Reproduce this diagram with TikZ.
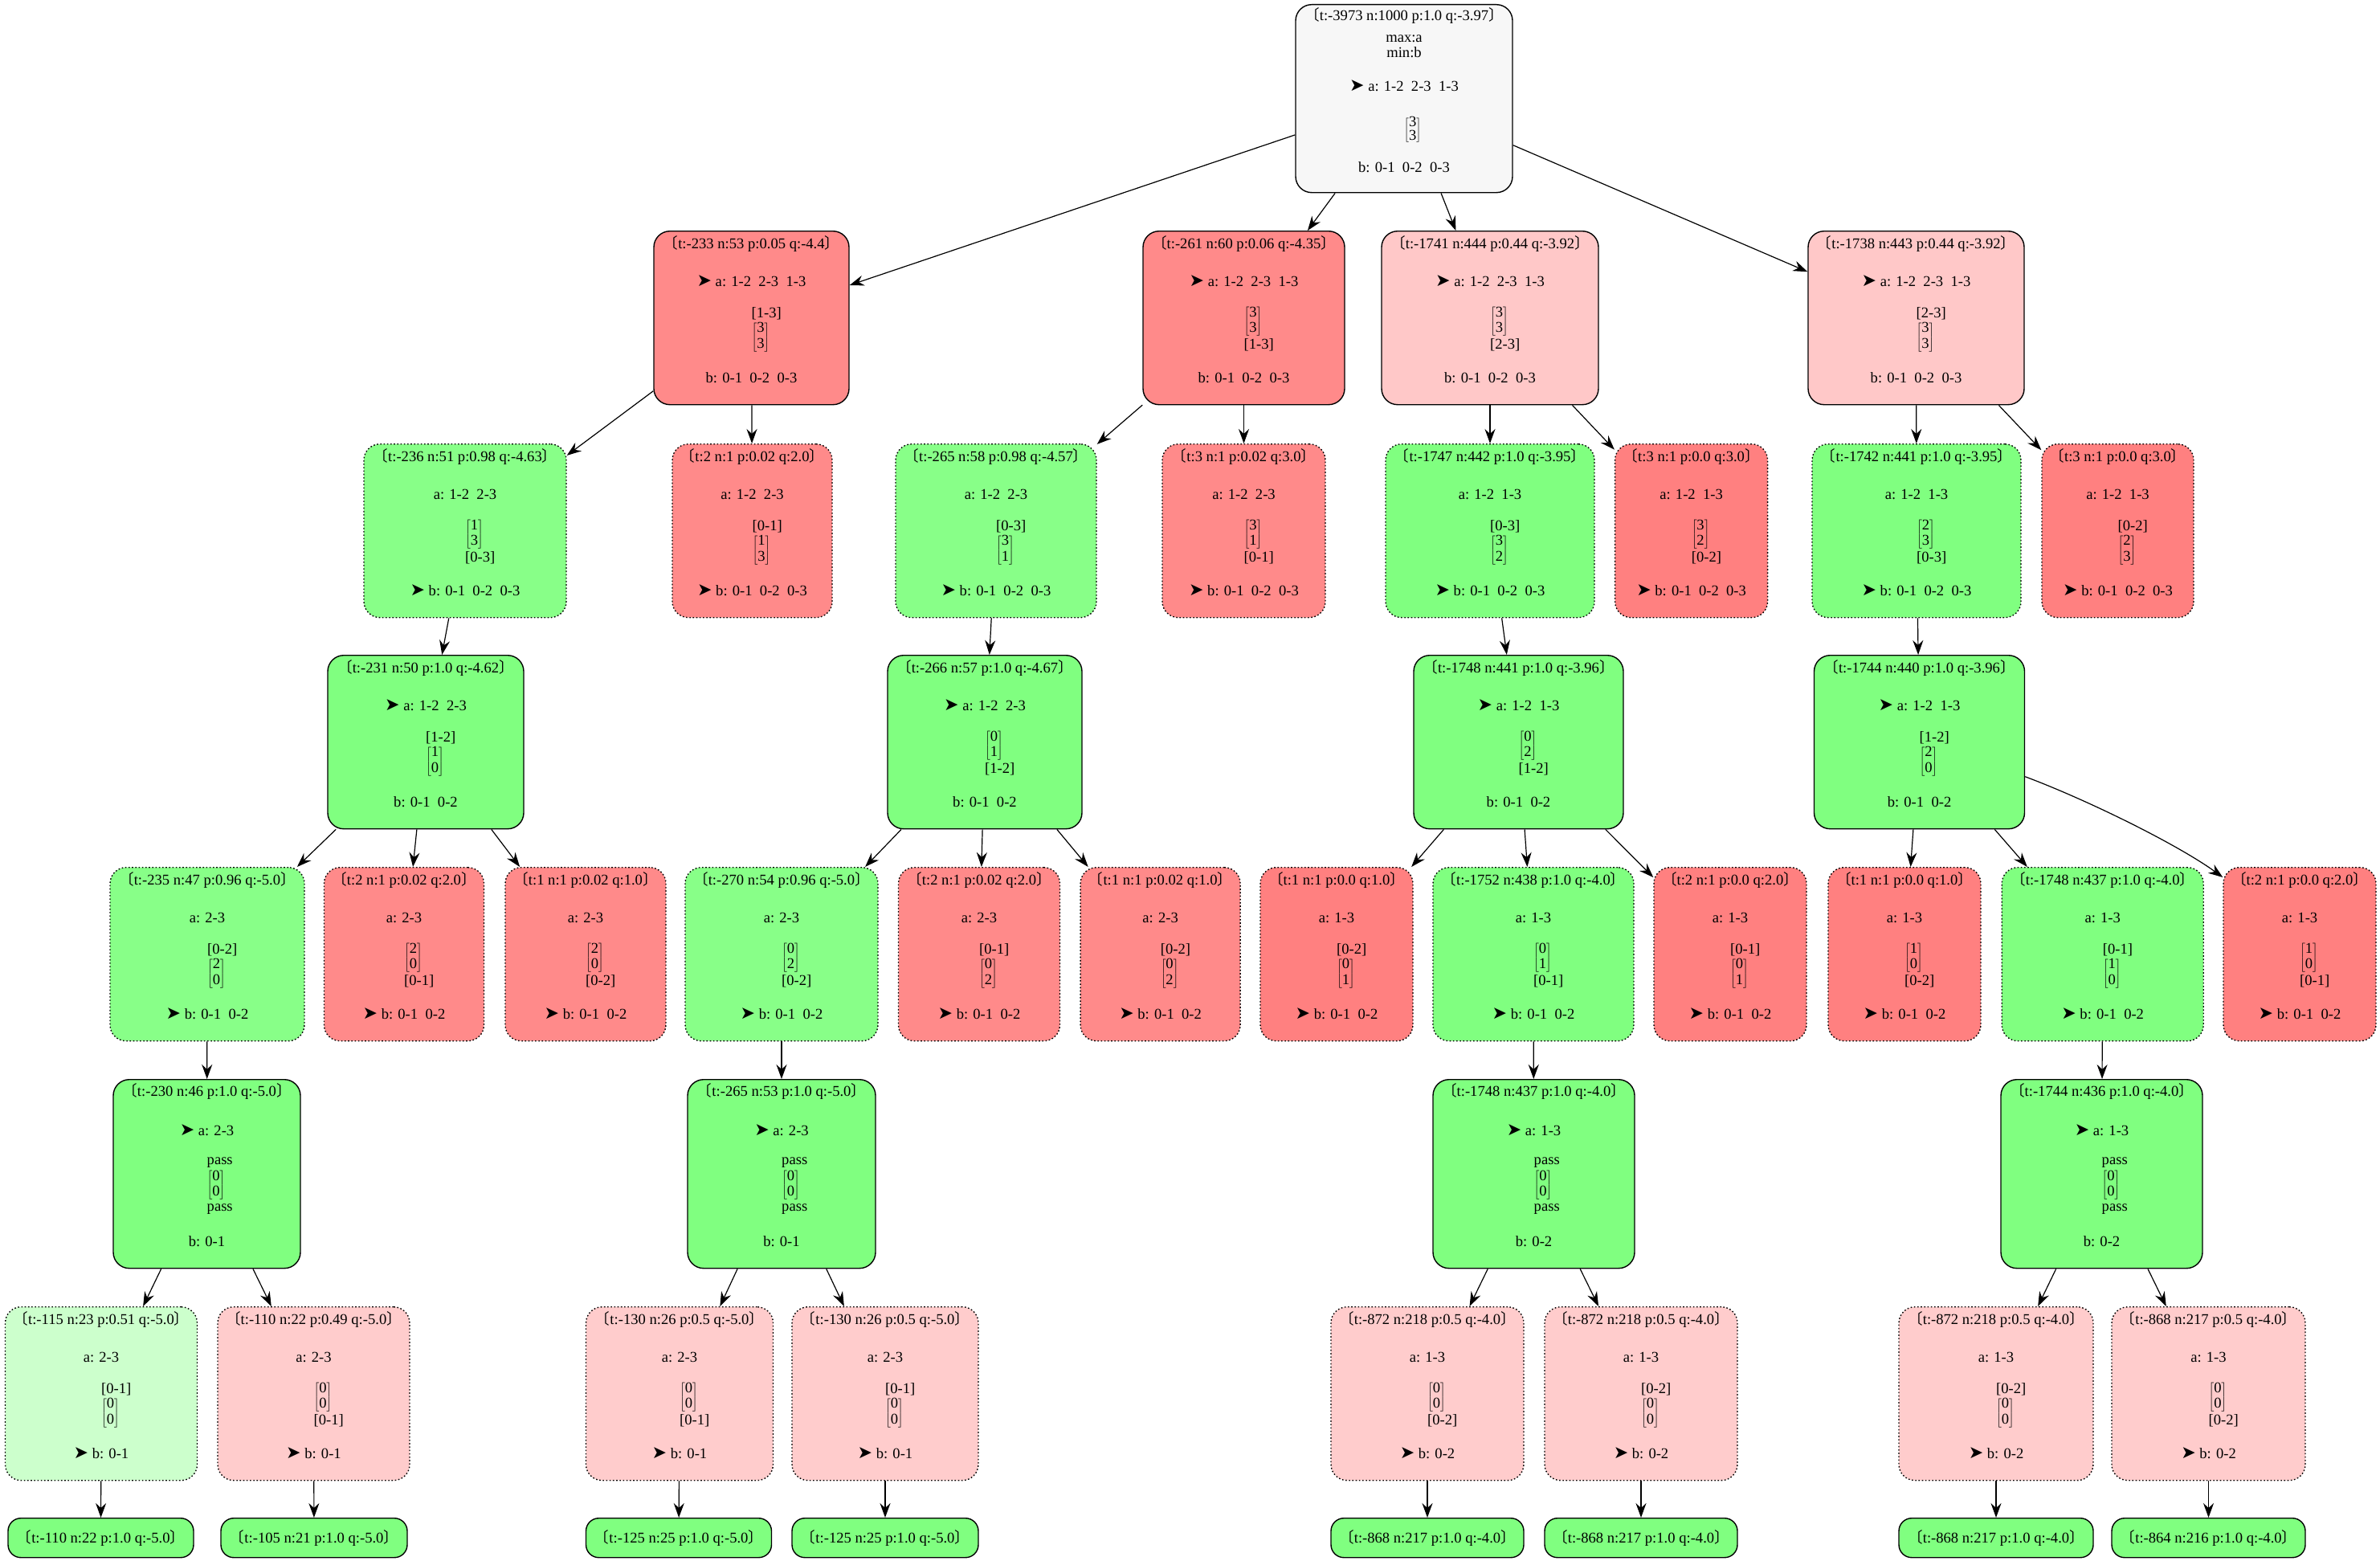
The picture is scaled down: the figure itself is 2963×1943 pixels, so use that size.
\documentclass[tikz,border=0pt]{standalone}
\usepackage{fontspec}
\setmainfont{Liberation Serif}
\newfontfamily\cjk{Noto Sans CJK SC}
\newfontfamily\sym{DejaVu Sans}
\usetikzlibrary{arrows.meta}
\definecolor{cgray}{HTML}{F7F7F7}
\definecolor{csal}{HTML}{FF8A8A}
\definecolor{cred}{HTML}{FF8080}
\definecolor{cpink}{HTML}{FFC8C8}
\definecolor{cpinkb}{HTML}{FFCCCC}
\definecolor{cgrn}{HTML}{88FF88}
\definecolor{cgrnb}{HTML}{80FF80}
\definecolor{clgrn}{HTML}{CCFFCC}
\tikzset{
  box/.style={draw=black, line width=1.4pt, rounded corners=20pt, inner sep=0pt},
  solidbox/.style={box},
  dotbox/.style={box, dash pattern=on 1.6pt off 2.6pt},
  leafbox/.style={box, rounded corners=16pt, fill=cgrnb, minimum height=49pt, anchor=north, font=\fontsize{18.6}{19.5}\selectfont},
  txt/.style={inner sep=0pt, font=\fontsize{18.6}{19.5}\selectfont},
  mbox/.style={txt, anchor=west, text height=16pt, text depth=7pt},
  edge/.style={line width=1.2pt, -{Stealth[length=18pt,width=13pt,inset=6pt]}},
}
\newcommand\arr{{\sym\fontsize{22}{22}\selectfont ➤}\ }
\newcommand\ttl[1]{{\cjk 〔}#1{\cjk 〕}}
\newcommand\mtx[2]{{\delimiterfactor=850\delimitershortfall=8pt\smash{$\left[\begin{tabular}{@{}c@{}}#1\\#2\end{tabular}\right]$}}}
% standard node: name, style, cx, top, width, title, a-line, b-line
\newcommand\std[8]{%
  \node[#2, minimum width=#5pt, minimum height=216pt, anchor=north] (#1) at (#3,-#4) {};
  \node[txt] (#1-t) at ([yshift=-16pt]#1.north) {\ttl{#6}};
  \node[txt] (#1-a) at ([yshift=-63pt]#1.north) {#7};
  \node[txt] (#1-b) at ([yshift=-183pt]#1.north) {#8};
}
\newcommand\stkA[4]{%
  \node[txt, anchor=west] (#1-s1) at ([yshift=-103pt]#1.north) {#2};
  \node[mbox] (#1-s2) at ([yshift=-132.5pt]#1.north) {\mtx{#3}{#4}};
}
\newcommand\stkB[4]{%
  \node[mbox] (#1-s1) at ([yshift=-113pt]#1.north) {\mtx{#2}{#3}};
  \node[txt, anchor=west] (#1-s2) at ([yshift=-142pt]#1.north) {#4};
}
% pass node: name, cx, width, title, a-line, b-line
\newcommand\pss[6]{%
  \node[solidbox, fill=cgrnb, minimum width=#3pt, minimum height=235pt, anchor=north] (#1) at (#2,-1343) {};
  \node[txt] (#1-t) at ([yshift=-15pt]#1.north) {\ttl{#4}};
  \node[txt] (#1-a) at ([yshift=-64pt]#1.north) {#5};
  \node[txt, anchor=west] (#1-s1) at ([yshift=-104pt]#1.north) {pass};
  \node[mbox] (#1-s2) at ([yshift=-132pt]#1.north) {\mtx{0}{0}};
  \node[txt, anchor=west] (#1-s3) at ([yshift=-162pt]#1.north) {pass};
  \node[txt] (#1-b) at ([yshift=-202pt]#1.north) {#6};
}
\begin{document}
\begin{tikzpicture}[x=1pt,y=1pt]
\useasboundingbox (0,0) rectangle (2963,-1943);
% root
\node[solidbox, fill=cgray, minimum width=270pt, minimum height=234pt, anchor=north] (n0) at (1748,-5) {};
\node[txt] (n0-t) at ([yshift=-15pt]n0.north) {\ttl{t:-3973 n:1000 p:1.0 q:-3.97}};
\node[txt] (n0-m1) at ([yshift=-43pt]n0.north) {max:a};
\node[txt] (n0-m2) at ([yshift=-60pt]n0.north) {min:b};
\node[txt] (n0-a) at ([yshift=-102pt]n0.north) {\arr a: 1-2\ \ 2-3\ \ 1-3};
\node[mbox] (n0-s) at ([yshift=-157pt]n0.north) {\fontsize{18.6}{15.5}\selectfont\mtx{3}{3}};
\node[txt] (n0-b) at ([yshift=-203pt]n0.north) {b: 0-1\ \ 0-2\ \ 0-3};
% level 1
\std{n233}{solidbox,fill=csal}{935.5}{287}{243}{t:-233 n:53 p:0.05 q:-4.4}{\arr a: 1-2\ \ 2-3\ \ 1-3}{b: 0-1\ \ 0-2\ \ 0-3}
\stkA{n233}{[1-3]}{3}{3}
\std{n261}{solidbox,fill=csal}{1548.5}{287}{251}{t:-261 n:60 p:0.06 q:-4.35}{\arr a: 1-2\ \ 2-3\ \ 1-3}{b: 0-1\ \ 0-2\ \ 0-3}
\stkB{n261}{3}{3}{[1-3]}
\std{n1741}{solidbox,fill=cpink}{1855}{287}{270}{t:-1741 n:444 p:0.44 q:-3.92}{\arr a: 1-2\ \ 2-3\ \ 1-3}{b: 0-1\ \ 0-2\ \ 0-3}
\stkB{n1741}{3}{3}{[2-3]}
\std{n1738}{solidbox,fill=cpink}{2385.5}{287}{269}{t:-1738 n:443 p:0.44 q:-3.92}{\arr a: 1-2\ \ 2-3\ \ 1-3}{b: 0-1\ \ 0-2\ \ 0-3}
\stkA{n1738}{[2-3]}{3}{3}
% level 2
\std{n236}{dotbox,fill=cgrn}{579}{552}{252}{t:-236 n:51 p:0.98 q:-4.63}{a: 1-2\ \ 2-3}{\arr b: 0-1\ \ 0-2\ \ 0-3}
\stkB{n236}{1}{3}{[0-3]}
\std{n2a}{dotbox,fill=csal}{936.5}{552}{199}{t:2 n:1 p:0.02 q:2.0}{a: 1-2\ \ 2-3}{\arr b: 0-1\ \ 0-2\ \ 0-3}
\stkA{n2a}{[0-1]}{1}{3}
\std{n265}{dotbox,fill=cgrn}{1240}{552}{250}{t:-265 n:58 p:0.98 q:-4.57}{a: 1-2\ \ 2-3}{\arr b: 0-1\ \ 0-2\ \ 0-3}
\stkA{n265}{[0-3]}{3}{1}
\std{n3a}{dotbox,fill=csal}{1548.5}{552}{203}{t:3 n:1 p:0.02 q:3.0}{a: 1-2\ \ 2-3}{\arr b: 0-1\ \ 0-2\ \ 0-3}
\stkB{n3a}{3}{1}{[0-1]}
\std{n1747}{dotbox,fill=cgrnb}{1855}{552}{260}{t:-1747 n:442 p:1.0 q:-3.95}{a: 1-2\ \ 1-3}{\arr b: 0-1\ \ 0-2\ \ 0-3}
\stkA{n1747}{[0-3]}{3}{2}
\std{n3b}{dotbox,fill=cred}{2105.6}{552}{190}{t:3 n:1 p:0.0 q:3.0}{a: 1-2\ \ 1-3}{\arr b: 0-1\ \ 0-2\ \ 0-3}
\stkB{n3b}{3}{2}{[0-2]}
\std{n1742}{dotbox,fill=cgrnb}{2386}{552}{260}{t:-1742 n:441 p:1.0 q:-3.95}{a: 1-2\ \ 1-3}{\arr b: 0-1\ \ 0-2\ \ 0-3}
\stkB{n1742}{2}{3}{[0-3]}
\std{n3c}{dotbox,fill=cred}{2636.5}{552}{189}{t:3 n:1 p:0.0 q:3.0}{a: 1-2\ \ 1-3}{\arr b: 0-1\ \ 0-2\ \ 0-3}
\stkA{n3c}{[0-2]}{2}{3}
% level 3
\std{n231}{solidbox,fill=cgrnb}{530}{815}{244}{t:-231 n:50 p:1.0 q:-4.62}{\arr a: 1-2\ \ 2-3}{b: 0-1\ \ 0-2}
\stkA{n231}{[1-2]}{1}{0}
\std{n266}{solidbox,fill=cgrnb}{1226}{815}{242}{t:-266 n:57 p:1.0 q:-4.67}{\arr a: 1-2\ \ 2-3}{b: 0-1\ \ 0-2}
\stkB{n266}{0}{1}{[1-2]}
\std{n1748a}{solidbox,fill=cgrnb}{1890.5}{815}{261}{t:-1748 n:441 p:1.0 q:-3.96}{\arr a: 1-2\ \ 1-3}{b: 0-1\ \ 0-2}
\stkB{n1748a}{0}{2}{[1-2]}
\std{n1744a}{solidbox,fill=cgrnb}{2389.5}{815}{262}{t:-1744 n:440 p:1.0 q:-3.96}{\arr a: 1-2\ \ 1-3}{b: 0-1\ \ 0-2}
\stkA{n1744a}{[1-2]}{2}{0}
% level 4
\std{n235}{dotbox,fill=cgrn}{258}{1079}{242}{t:-235 n:47 p:0.96 q:-5.0}{a: 2-3}{\arr b: 0-1\ \ 0-2}
\stkA{n235}{[0-2]}{2}{0}
\std{n2b}{dotbox,fill=csal}{503}{1079}{199}{t:2 n:1 p:0.02 q:2.0}{a: 2-3}{\arr b: 0-1\ \ 0-2}
\stkB{n2b}{2}{0}{[0-1]}
\std{n1b}{dotbox,fill=csal}{729}{1079}{200}{t:1 n:1 p:0.02 q:1.0}{a: 2-3}{\arr b: 0-1\ \ 0-2}
\stkB{n1b}{2}{0}{[0-2]}
\std{n270}{dotbox,fill=cgrn}{973}{1079}{240}{t:-270 n:54 p:0.96 q:-5.0}{a: 2-3}{\arr b: 0-1\ \ 0-2}
\stkB{n270}{0}{2}{[0-2]}
\std{n2c}{dotbox,fill=csal}{1219}{1079}{201}{t:2 n:1 p:0.02 q:2.0}{a: 2-3}{\arr b: 0-1\ \ 0-2}
\stkA{n2c}{[0-1]}{0}{2}
\std{n1c}{dotbox,fill=csal}{1444.6}{1079}{199}{t:1 n:1 p:0.02 q:1.0}{a: 2-3}{\arr b: 0-1\ \ 0-2}
\stkA{n1c}{[0-2]}{0}{2}
\std{n1d}{dotbox,fill=cred}{1664}{1079}{190}{t:1 n:1 p:0.0 q:1.0}{a: 1-3}{\arr b: 0-1\ \ 0-2}
\stkA{n1d}{[0-2]}{0}{1}
\std{n1752}{dotbox,fill=cgrnb}{1909}{1079}{250}{t:-1752 n:438 p:1.0 q:-4.0}{a: 1-3}{\arr b: 0-1\ \ 0-2}
\stkB{n1752}{0}{1}{[0-1]}
\std{n2d}{dotbox,fill=cred}{2154}{1079}{190}{t:2 n:1 p:0.0 q:2.0}{a: 1-3}{\arr b: 0-1\ \ 0-2}
\stkA{n2d}{[0-1]}{0}{1}
\std{n1e}{dotbox,fill=cred}{2371}{1079}{190}{t:1 n:1 p:0.0 q:1.0}{a: 1-3}{\arr b: 0-1\ \ 0-2}
\stkB{n1e}{1}{0}{[0-2]}
\std{n1748b}{dotbox,fill=cgrnb}{2617.7}{1079}{251}{t:-1748 n:437 p:1.0 q:-4.0}{a: 1-3}{\arr b: 0-1\ \ 0-2}
\stkA{n1748b}{[0-1]}{1}{0}
\std{n2e}{dotbox,fill=cred}{2863}{1079}{190}{t:2 n:1 p:0.0 q:2.0}{a: 1-3}{\arr b: 0-1\ \ 0-2}
\stkB{n2e}{1}{0}{[0-1]}
% level 5
\pss{n230}{257.5}{233}{t:-230 n:46 p:1.0 q:-5.0}{\arr a: 2-3}{b: 0-1}
\pss{n265b}{973}{234}{t:-265 n:53 p:1.0 q:-5.0}{\arr a: 2-3}{b: 0-1}
\pss{n1748c}{1909.5}{251}{t:-1748 n:437 p:1.0 q:-4.0}{\arr a: 1-3}{b: 0-2}
\pss{n1744b}{2616.5}{251}{t:-1744 n:436 p:1.0 q:-4.0}{\arr a: 1-3}{b: 0-2}
% level 6
\std{n115}{dotbox,fill=clgrn}{126}{1626}{239}{t:-115 n:23 p:0.51 q:-5.0}{a: 2-3}{\arr b: 0-1}
\stkA{n115}{[0-1]}{0}{0}
\std{n110}{dotbox,fill=cpinkb}{390.5}{1626}{239}{t:-110 n:22 p:0.49 q:-5.0}{a: 2-3}{\arr b: 0-1}
\stkB{n110}{0}{0}{[0-1]}
\std{n130a}{dotbox,fill=cpinkb}{846}{1626}{233}{t:-130 n:26 p:0.5 q:-5.0}{a: 2-3}{\arr b: 0-1}
\stkB{n130a}{0}{0}{[0-1]}
\std{n130b}{dotbox,fill=cpinkb}{1102}{1626}{232}{t:-130 n:26 p:0.5 q:-5.0}{a: 2-3}{\arr b: 0-1}
\stkA{n130b}{[0-1]}{0}{0}
\std{n872a}{dotbox,fill=cpinkb}{1777}{1626}{240}{t:-872 n:218 p:0.5 q:-4.0}{a: 1-3}{\arr b: 0-2}
\stkB{n872a}{0}{0}{[0-2]}
\std{n872b}{dotbox,fill=cpinkb}{2043}{1626}{240}{t:-872 n:218 p:0.5 q:-4.0}{a: 1-3}{\arr b: 0-2}
\stkA{n872b}{[0-2]}{0}{0}
\std{n872c}{dotbox,fill=cpinkb}{2485}{1626}{242}{t:-872 n:218 p:0.5 q:-4.0}{a: 1-3}{\arr b: 0-2}
\stkA{n872c}{[0-2]}{0}{0}
\std{n868a}{dotbox,fill=cpinkb}{2749.5}{1626}{241}{t:-868 n:217 p:0.5 q:-4.0}{a: 1-3}{\arr b: 0-2}
\stkB{n868a}{0}{0}{[0-2]}
% leaves
\node[leafbox, minimum width=231pt] (l110) at (125.5,-1889) {\ttl{t:-110 n:22 p:1.0 q:-5.0}};
\node[leafbox, minimum width=232pt] (l105) at (391,-1889) {\ttl{t:-105 n:21 p:1.0 q:-5.0}};
\node[leafbox, minimum width=231pt] (l125a) at (845,-1889) {\ttl{t:-125 n:25 p:1.0 q:-5.0}};
\node[leafbox, minimum width=232pt] (l125b) at (1102,-1889) {\ttl{t:-125 n:25 p:1.0 q:-5.0}};
\node[leafbox, minimum width=240pt] (l868a) at (1777,-1889) {\ttl{t:-868 n:217 p:1.0 q:-4.0}};
\node[leafbox, minimum width=240pt] (l868b) at (2043,-1889) {\ttl{t:-868 n:217 p:1.0 q:-4.0}};
\node[leafbox, minimum width=242pt] (l868c) at (2485,-1889) {\ttl{t:-868 n:217 p:1.0 q:-4.0}};
\node[leafbox, minimum width=241pt] (l864) at (2749.5,-1889) {\ttl{t:-864 n:216 p:1.0 q:-4.0}};
% edges
\draw[edge] (n0) -- (n233);
\draw[edge] (n0) -- (n261);
\draw[edge] (n0) -- (n1741);
\draw[edge] (n0) -- (n1738);
\draw[edge] (n233) -- (n236);
\draw[edge] (n233) -- (n2a);
\draw[edge] (n261) -- (n265);
\draw[edge] (n261) -- (n3a);
\draw[edge] (n1741) -- (n1747);
\draw[edge] (n1741) -- (n3b);
\draw[edge] (n1738) -- (n1742);
\draw[edge] (n1738) -- (n3c);
\draw[edge] (n236) -- (n231);
\draw[edge] (n265) -- (n266);
\draw[edge] (n1747) -- (n1748a);
\draw[edge] (n1742) -- (n1744a);
\draw[edge] (n231) -- (n235);
\draw[edge] (n231) -- (n2b);
\draw[edge] (n231) -- (n1b);
\draw[edge] (n266) -- (n270);
\draw[edge] (n266) -- (n2c);
\draw[edge] (n266) -- (n1c);
\draw[edge] (n1748a) -- (n1d);
\draw[edge] (n1748a) -- (n1752);
\draw[edge] (n1748a) -- (n2d);
\draw[edge] (n1744a) -- (n1e);
\draw[edge] (n1744a) -- (n1748b);
\draw[edge] ([yshift=-43pt]n1744a.east) .. controls +(80pt,-30pt) and +(-55pt,40pt) .. ([yshift=-13pt]n2e.north west);
\draw[edge] (n235) -- (n230);
\draw[edge] (n270) -- (n265b);
\draw[edge] (n1752) -- (n1748c);
\draw[edge] (n1748b) -- (n1744b);
\draw[edge] (n230) -- (n115);
\draw[edge] (n230) -- (n110);
\draw[edge] (n265b) -- (n130a);
\draw[edge] (n265b) -- (n130b);
\draw[edge] (n1748c) -- (n872a);
\draw[edge] (n1748c) -- (n872b);
\draw[edge] (n1744b) -- (n872c);
\draw[edge] (n1744b) -- (n868a);
\draw[edge] (n115) -- (l110);
\draw[edge] (n110) -- (l105);
\draw[edge] (n130a) -- (l125a);
\draw[edge] (n130b) -- (l125b);
\draw[edge] (n872a) -- (l868a);
\draw[edge] (n872b) -- (l868b);
\draw[edge] (n872c) -- (l868c);
\draw[edge] (n868a) -- (l864);
\end{tikzpicture}
\end{document}
